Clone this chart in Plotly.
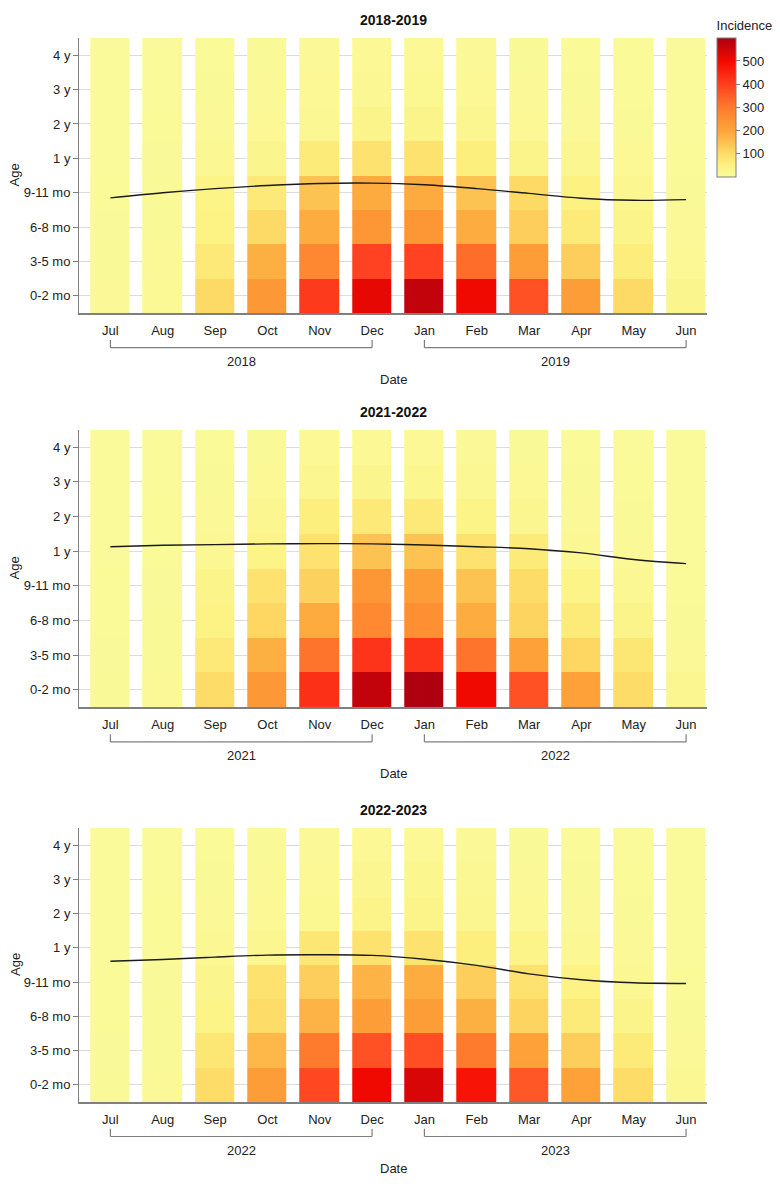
import plotly.graph_objects as go

months = ["Jul", "Aug", "Sep", "Oct", "Nov", "Dec", "Jan", "Feb", "Mar", "Apr", "May", "Jun"]
ages = ["0-2 mo", "3-5 mo", "6-8 mo", "9-11 mo", "1 y", "2 y", "3 y", "4 y"]
seasons = ["2018-2019", "2021-2022", "2022-2023"]
years = [("2018", "2019"), ("2021", "2022"), ("2022", "2023")]

# incidence, rows = age groups (0-2 mo first), columns = months Jul..Jun
inc_2018 = [
    [12, 14, 105, 230, 410, 520, 570, 505, 370, 220, 105, 30],
    [10, 12, 70, 180, 270, 395, 395, 320, 220, 125, 60, 15],
    [9, 11, 45, 105, 185, 235, 235, 185, 125, 65, 35, 12],
    [8, 10, 40, 70, 145, 190, 190, 145, 105, 50, 25, 10],
    [7, 9, 20, 30, 65, 85, 85, 55, 35, 25, 15, 8],
    [6, 8, 12, 15, 20, 35, 35, 25, 15, 12, 10, 6],
    [6, 7, 10, 12, 15, 20, 22, 15, 12, 10, 8, 5],
    [5, 7, 8, 10, 12, 15, 15, 12, 10, 8, 8, 5],
]
inc_2021 = [
    [10, 12, 100, 230, 430, 570, 600, 505, 370, 210, 100, 25],
    [9, 11, 70, 180, 310, 420, 420, 310, 210, 110, 75, 12],
    [8, 10, 45, 110, 190, 265, 250, 185, 115, 65, 35, 10],
    [8, 9, 35, 85, 120, 235, 220, 145, 100, 40, 20, 8],
    [7, 8, 20, 40, 85, 145, 145, 85, 65, 20, 12, 6],
    [6, 8, 12, 25, 55, 70, 70, 40, 25, 12, 10, 5],
    [5, 7, 10, 15, 25, 30, 28, 20, 15, 10, 8, 5],
    [5, 6, 8, 10, 15, 15, 15, 12, 10, 8, 6, 5],
]
inc_2022 = [
    [10, 12, 100, 220, 385, 505, 540, 480, 360, 210, 100, 20],
    [9, 11, 75, 165, 300, 370, 375, 300, 210, 125, 65, 12],
    [8, 10, 40, 100, 175, 220, 220, 180, 115, 65, 35, 10],
    [8, 9, 30, 85, 125, 175, 185, 125, 85, 45, 20, 8],
    [7, 8, 18, 25, 75, 85, 85, 55, 38, 18, 12, 6],
    [6, 8, 12, 15, 22, 38, 38, 25, 15, 12, 10, 6],
    [5, 7, 10, 12, 15, 25, 28, 18, 12, 10, 8, 5],
    [5, 6, 8, 10, 12, 15, 15, 12, 10, 8, 6, 5],
]
incidence = [inc_2018, inc_2021, inc_2022]

# mean age line, in age-group index units
mean_2018 = [2.85, 3.00, 3.12, 3.21, 3.27, 3.28, 3.23, 3.12, 2.98, 2.84, 2.78, 2.80]
mean_2021 = [4.13, 4.17, 4.19, 4.21, 4.22, 4.21, 4.18, 4.13, 4.07, 3.95, 3.76, 3.64]
mean_2022 = [3.61, 3.66, 3.73, 3.79, 3.80, 3.78, 3.67, 3.49, 3.24, 3.07, 2.98, 2.96]
mean_age = [mean_2018, mean_2021, mean_2022]

colorscale = [
    [0.00, "#fafb9e"],
    [0.08, "#fcf282"],
    [0.17, "#fddb66"],
    [0.33, "#fda63a"],
    [0.50, "#fe7a2d"],
    [0.67, "#ff3e20"],
    [0.83, "#f50a00"],
    [1.00, "#ae000f"],
]

FONT = "Liberation Sans, Arial, sans-serif"
GRAY = "#7f7f7f"

fig = go.Figure()

# panel domains (paper fractions)
domains = [[0.7415, 1.0], [0.3712, 0.6316], [0.0, 0.2575]]
xs = list(range(len(months)))
ys = list(range(len(ages)))

for i in range(3):
    xa = "x" if i == 0 else f"x{i + 1}"
    ya = "y" if i == 0 else f"y{i + 1}"
    fig.add_trace(go.Heatmap(
        z=incidence[i], x=xs, y=ys, coloraxis="coloraxis",
        xgap=13, ygap=0, xaxis=xa, yaxis=ya,
        hovertemplate="%{x}<br>%{y}<br>%{z}<extra></extra>",
    ))
    fig.add_trace(go.Scatter(
        x=xs, y=mean_age[i], mode="lines", line=dict(color="#1a1a1a", width=1.4, shape="spline"),
        xaxis=xa, yaxis=ya, showlegend=False, hoverinfo="skip",
    ))

    sfx = "" if i == 0 else str(i + 1)
    fig.layout["xaxis" + sfx] = dict(
        domain=[0, 1], anchor=ya, range=[-0.6, 11.4], tickmode="array",
        tickvals=xs, ticktext=months, showgrid=False, zeroline=False,
        showline=True, linecolor=GRAY, linewidth=1.5, ticks="",
        ticklabelstandoff=5, tickfont=dict(size=13, color="#222"),
    )
    fig.layout["yaxis" + sfx] = dict(
        domain=domains[i], anchor=xa, range=[-0.5, 7.5], tickmode="array",
        tickvals=ys, ticktext=ages, showgrid=True, gridcolor="#dcdcdc", gridwidth=1,
        zeroline=False, showline=True, linecolor=GRAY, linewidth=1,
        ticks="outside", ticklen=5, tickcolor=GRAY, tickfont=dict(size=13, color="#222"),
    )

    dom = f"{ya} domain"
    # panel title
    fig.add_annotation(text=f"<b>{seasons[i]}</b>", x=0.5, y=1, xref="paper", yref=dom,
                       yanchor="bottom", yshift=8, showarrow=False, font=dict(size=14, color="#111"))
    # y axis title
    fig.add_annotation(text="Age", x=0, y=0.5, xref="paper", yref=dom, xanchor="center",
                       xshift=-64, textangle=-90, showarrow=False, font=dict(size=13, color="#222"))
    # x axis title
    fig.add_annotation(text="Date", x=0.5, y=0, xref="paper", yref=dom, yanchor="top",
                       yshift=-57, showarrow=False, font=dict(size=13, color="#222"))
    # year brackets
    for (x0, x1), yr in zip([(0, 5), (6, 11)], years[i]):
        for seg in [(x0, -0.126, x1, -0.126), (x0, -0.098, x0, -0.126), (x1, -0.098, x1, -0.126)]:
            fig.add_shape(type="line", xref=xa, yref=dom, x0=seg[0], y0=seg[1], x1=seg[2], y1=seg[3],
                          line=dict(color=GRAY, width=1.2))
        fig.add_annotation(text=yr, x=(x0 + x1) / 2, y=0, xref=xa, yref=dom, yanchor="top",
                           yshift=-39, showarrow=False, font=dict(size=13, color="#222"))

fig.update_layout(
    width=772, height=1179,
    margin=dict(l=71, r=73, t=30, b=85, autoexpand=False),
    paper_bgcolor="white", plot_bgcolor="white",
    font=dict(family=FONT, color="#222"),
    showlegend=False,
    coloraxis=dict(
        colorscale=colorscale, cmin=0, cmax=600,
        colorbar=dict(
            title=dict(text="Incidence", side="top", font=dict(size=13)),
            x=1.016, xanchor="left", xpad=0, y=1.019, yanchor="top", ypad=0,
            lenmode="pixels", len=159, thickness=19,
            outlinecolor=GRAY, outlinewidth=1,
            tickvals=[100, 200, 300, 400, 500], ticks="outside", ticklen=4, tickcolor=GRAY,
            tickfont=dict(size=13),
        ),
    ),
)

fig.write_html("out.html")
